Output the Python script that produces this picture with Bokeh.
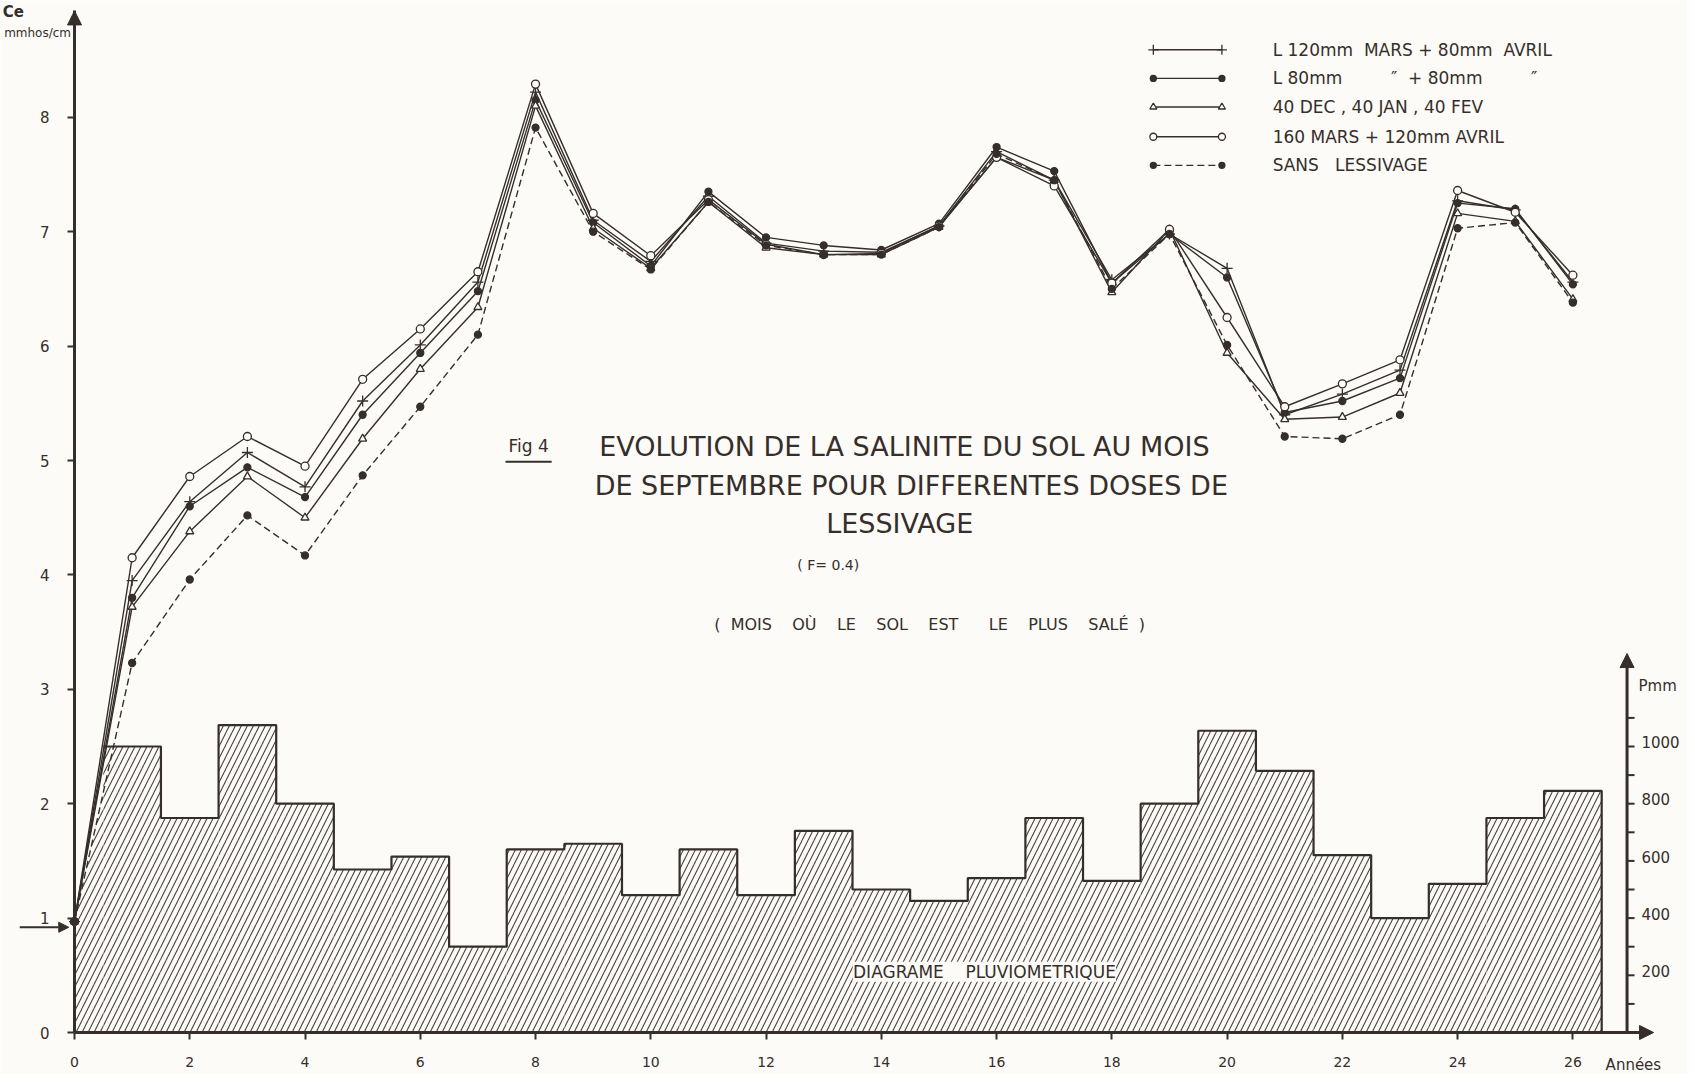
from bokeh.plotting import figure
from bokeh.models import Range1d, Label, Arrow, NormalHead, FixedTicker, ColumnDataSource
from bokeh.embed import file_html
from bokeh.resources import INLINE

# ---------------- data ----------------
years = list(range(27))
s_l120 = [0.97, 3.95, 4.64, 5.07, 4.77, 5.52, 6.01, 6.56, 8.22, 7.10, 6.74, 7.31, 6.90, 6.83, 6.82, 7.05,
          7.70, 7.45, 6.58, 6.98, 6.68, 5.40, 5.58, 5.79, 7.27, 7.19, 6.56]
s_l80 = [0.97, 3.80, 4.60, 4.94, 4.68, 5.40, 5.94, 6.48, 8.15, 7.08, 6.70, 7.35, 6.95, 6.88, 6.84, 7.07,
         7.74, 7.53, 6.55, 6.98, 6.60, 5.42, 5.52, 5.72, 7.25, 7.20, 6.54]
s_40 = [0.97, 3.72, 4.38, 4.86, 4.50, 5.19, 5.80, 6.34, 8.10, 7.03, 6.68, 7.26, 6.86, 6.80, 6.80, 7.04,
        7.65, 7.45, 6.47, 7.02, 5.94, 5.36, 5.38, 5.59, 7.16, 7.09, 6.41]
s_160 = [0.97, 4.15, 4.86, 5.21, 4.95, 5.71, 6.15, 6.65, 8.29, 7.16, 6.79, 7.28, 6.89, 6.80, 6.81, 7.05,
         7.65, 7.40, 6.55, 7.02, 6.25, 5.47, 5.67, 5.88, 7.36, 7.17, 6.62]
s_sans = [0.97, 3.23, 3.96, 4.52, 4.17, 4.87, 5.47, 6.10, 7.91, 7.00, 6.67, 7.26, 6.88, 6.80, 6.80, 7.04,
          7.68, 7.45, 6.50, 6.98, 6.01, 5.21, 5.19, 5.40, 7.03, 7.08, 6.38]

rain_years = list(range(1, 27))
rain_mm = [1000, 750, 1075, 800, 570, 615, 300, 640, 660, 480, 640, 480, 705, 500, 460, 540, 750, 530,
           800, 1055, 915, 620, 400, 520, 750, 845]

x_ticks = list(range(0, 27, 2))
y_ticks = list(range(0, 9))
rain_labels = [200, 400, 600, 800, 1000]
rain_minor = [100, 300, 500, 700, 900, 1100]

NB = "\u00a0"
legend_texts = ["L 120mm" + NB * 2 + "MARS + 80mm" + NB * 2 + "AVRIL",
                "L 80mm" + NB * 9 + "\u2033" + NB * 2 + "+" + NB + "80mm" + NB * 9 + "\u2033",
                "40 DEC , 40 JAN , 40 FEV",
                "160 MARS + 120mm AVRIL",
                "SANS" + NB * 3 + "LESSIVAGE"]

# ---------------- style ----------------
INK = "#362e2a"
BG = "#fcfbf8"
FONT = "DejaVu Sans"
MM_PER_UNIT = 400.0
PX_X = 57.63      # pixels per year
PX_Y = 114.4      # pixels per salinity unit
W, H = 1687, 1074
X0_PX, Y0_PX = 74, 42   # origin: px from left, px from bottom
x_start = -X0_PX / PX_X
y_start = -Y0_PX / PX_Y
x_end = x_start + W / PX_X
y_end = y_start + H / PX_Y
Y_TOP = 8.93

p = figure(width=W, height=H, output_backend="svg", toolbar_location=None,
           x_range=Range1d(x_start, x_end), y_range=Range1d(y_start, y_end),
           min_border_left=0, min_border_right=0, min_border_top=0, min_border_bottom=0)
p.extra_y_ranges = {"rain": Range1d(y_start * MM_PER_UNIT, y_end * MM_PER_UNIT)}
p.background_fill_color = BG
p.border_fill_color = BG
p.outline_line_color = None
p.xgrid.visible = False
p.ygrid.visible = False

# axes placed at the origin
p.xaxis.ticker = FixedTicker(ticks=x_ticks)
p.yaxis.ticker = FixedTicker(ticks=y_ticks)
p.xaxis.fixed_location = 0
p.yaxis.fixed_location = 0
for ax in (p.xaxis[0], p.yaxis[0]):
    ax.major_tick_out = 7
    ax.major_tick_in = 0
    ax.minor_tick_out = 0
    ax.minor_tick_in = 0
    ax.major_tick_line_color = INK
    ax.major_tick_line_width = 2
    ax.major_label_text_color = INK
    ax.major_label_text_font = FONT
    ax.major_label_text_font_size = "15px"
p.xaxis.major_label_text_font_size = "14px"
p.xaxis.axis_line_color = None
p.yaxis.axis_line_color = INK
p.yaxis.axis_line_width = 3
p.yaxis.bounds = (0, Y_TOP)
p.xaxis.bounds = (0, 26)
p.yaxis.major_label_standoff = 18
p.xaxis.major_label_standoff = 17

# ---------------- rainfall bars ----------------
lefts = [y - 0.5 for y in rain_years]
rights = [y + 0.5 for y in rain_years]
src = ColumnDataSource(dict(left=lefts, right=rights, top=rain_mm, bottom=[0] * len(rain_mm)))
HATCH = dict(hatch_pattern="/", hatch_color=INK, hatch_scale=12, hatch_weight=1.1, hatch_alpha=0.9)
p.quad(left="left", right="right", top="top", bottom="bottom", source=src, y_range_name="rain",
       fill_color=BG, line_color=None, **HATCH)
first_top = min(rain_mm[0], (s_sans[0] + s_sans[1]) / 2 * MM_PER_UNIT)
p.patch([0, 0, lefts[0], lefts[0]], [0, s_sans[0] * MM_PER_UNIT, first_top, 0], y_range_name="rain",
        fill_color=BG, line_color=None, **HATCH)
ox, oy = [], []
for l, r, h in zip(lefts, rights, rain_mm):
    ox += [l, r]
    oy += [h, h]
ox.append(rights[-1])
oy.append(0)
p.line(ox, oy, y_range_name="rain", line_color=INK, line_width=2.2)

# ---------------- salinity curves ----------------
series = [
    (s_l120, "cross", INK, 11, "solid"),
    (s_l80, "circle", INK, 7, "solid"),
    (s_40, "triangle", None, 8, "solid"),
    (s_160, "circle", None, 8, "solid"),
    (s_sans, "circle", INK, 7, "7 4"),
]
for vals, marker, fill, size, dash in series:
    p.line(years, vals, line_color=INK, line_width=1.4, line_dash=dash)
for vals, marker, fill, size, dash in series:
    p.scatter(years, vals, marker=marker, size=size, line_color=INK, line_width=1.3,
              fill_color=fill if fill else BG)

# ---------------- legend (drawn) ----------------
leg_x0, leg_x1 = 18.72, 19.91
leg_rows = [8.59, 8.34, 8.09, 7.83, 7.58]
for (vals, marker, fill, size, dash), yy, txt in zip(series, leg_rows, legend_texts):
    p.line([leg_x0, leg_x1], [yy, yy], line_color=INK, line_width=1.4, line_dash=dash)
    p.scatter([leg_x0, leg_x1], [yy, yy], marker=marker, size=size - 1, line_color=INK, line_width=1.3,
              fill_color=fill if fill else BG)
    p.add_layout(Label(x=20.79, y=yy, text=txt, text_align="left", text_baseline="middle",
                       text_font=FONT, text_font_size="17px", text_color=INK))

# ---------------- right (rain) axis ----------------
RX = 26.94
p.add_layout(Arrow(end=NormalHead(size=14, fill_color=INK, line_color=INK), x_start=RX, y_start=0,
                   x_end=RX, y_end=1325, y_range_name="rain", line_color=INK, line_width=3))
tick_vals = sorted(rain_labels + rain_minor)
p.segment(x0=[RX] * len(tick_vals), x1=[RX + 0.13] * len(tick_vals), y0=tick_vals, y1=tick_vals,
          y_range_name="rain", line_color=INK, line_width=2)
for v in rain_labels:
    p.add_layout(Label(x=RX + 0.25, y=v + 15, y_range_name="rain", text=str(v), text_align="left",
                       text_baseline="middle", text_font=FONT, text_font_size="15px", text_color=INK))
p.add_layout(Label(x=RX + 0.2, y=1210, y_range_name="rain", text="Pmm", text_align="left",
                   text_baseline="middle", text_font=FONT, text_font_size="15px", text_color=INK))

# ---------------- axis arrows ----------------
p.add_layout(Arrow(end=NormalHead(size=14, fill_color=INK, line_color=INK), x_start=0, y_start=0,
                   x_end=27.4, y_end=0, line_color=INK, line_width=3))
p.add_layout(Arrow(end=NormalHead(size=14, fill_color=INK, line_color=INK), x_start=0, y_start=8.3,
                   x_end=0, y_end=Y_TOP, line_color=INK, line_width=3))
p.add_layout(Arrow(end=NormalHead(size=10, fill_color=INK, line_color=INK), x_start=-0.95, y_start=0.92,
                   x_end=-0.1, y_end=0.92, line_color=INK, line_width=2))

p.add_layout(Label(x=27.05, y=-0.28, text="Ann\u00e9es", text_align="center", text_baseline="middle",
                   text_font=FONT, text_font_size="15px", text_color=INK))
p.add_layout(Label(x=-1.06, y=8.92, text="Ce", text_align="center", text_baseline="middle",
                   text_font=FONT, text_font_size="15px", text_font_style="bold", text_color=INK))
p.add_layout(Label(x=-0.06, y=8.74, text="mmhos/cm", text_align="right", text_baseline="middle",
                   text_font=FONT, text_font_size="12px", text_color=INK))

# ---------------- titles ----------------
p.add_layout(Label(x=7.88, y=5.13, text="Fig 4", text_align="center", text_baseline="middle",
                   text_font=FONT, text_font_size="17px", text_color=INK))
p.segment(x0=[7.48], x1=[8.28], y0=[4.99], y1=[4.99], line_color=INK, line_width=2)
title_lines = ["EVOLUTION DE LA SALINITE DU SOL AU MOIS",
               "DE SEPTEMBRE POUR DIFFERENTES DOSES DE",
               "LESSIVAGE"]
for txt, tx, ty in zip(title_lines, [14.4, 14.52, 14.32], [5.12, 4.78, 4.45]):
    p.add_layout(Label(x=tx, y=ty, text=txt, text_align="center", text_baseline="middle",
                       text_font=FONT, text_font_size="27px", text_color=INK))
p.add_layout(Label(x=13.08, y=4.09, text="(" + NB + "F=" + NB + "0.4)", text_align="center",
                   text_baseline="middle", text_font=FONT, text_font_size="14px", text_color=INK))
sub = NB * 2 + "( MOIS  O\u00d9  LE  SOL  EST   LE  PLUS  SAL\u00c9 )"
p.add_layout(Label(x=14.75, y=3.57, text=sub.replace(" ", NB * 2), text_align="center",
                   text_baseline="middle", text_font=FONT, text_font_size="16px", text_color=INK))
p.add_layout(Label(x=15.79, y=0.53, text="DIAGRAME" + NB * 4 + "PLUVIOMETRIQUE", text_align="center",
                   text_baseline="middle", text_font=FONT, text_font_size="17px", text_color=INK,
                   background_fill_color=BG))

open("out.html", "w").write(file_html(p, INLINE))
